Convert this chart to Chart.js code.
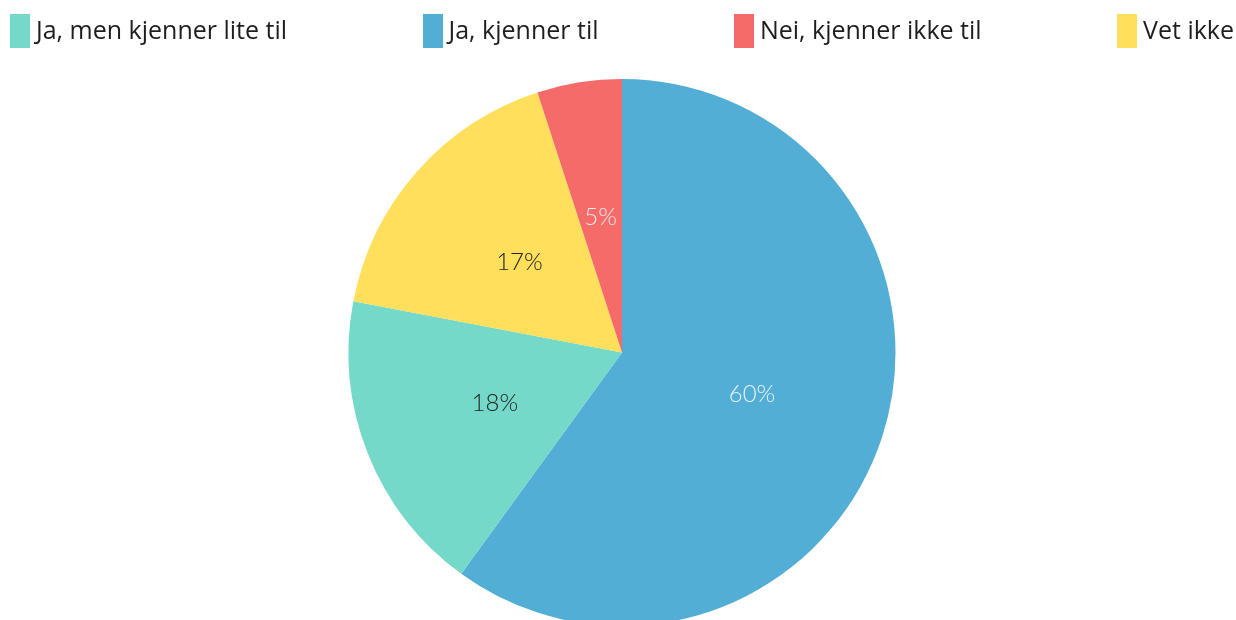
<!DOCTYPE html>
<html>
<head>
<meta charset="utf-8">
<script src="https://cdn.jsdelivr.net/npm/chart.js@4"></script>
<style>
  html, body { margin: 0; padding: 0; background: #fff; overflow: hidden; }
  #wrap { position: relative; width: 1236px; height: 626px; }
  #legend {
    position: absolute; left: 0; top: 0; width: 1236px; box-sizing: border-box;
    padding: 0 2px 0 10px; display: flex; justify-content: space-between; align-items: flex-start;
    font-family: "Open Sans", "Noto Sans", sans-serif; font-size: 25px; color: #1e1e1e; z-index: 2;
  }
  .item { display: flex; align-items: flex-start; white-space: nowrap; }
  .box { width: 20px; height: 34px; margin-top: 14px; margin-right: 6px; box-sizing: border-box; }
  .txt { line-height: 25px; margin-top: 17px; }
</style>
</head>
<body>
<div id="wrap">
  <div id="legend"></div>
  <canvas id="c"></canvas>
</div>
<script>
// Slices in drawing order (clockwise from top)
const categories = ['Ja, kjenner til', 'Ja, men kjenner lite til', 'Vet ikke', 'Nei, kjenner ikke til'];
const values = [60, 18, 17, 5];
const sliceColors = ['#53AED6', '#74D9C8', '#FFDF5B', '#F56B69'];
const labelColors = ['rgba(255,255,255,0.85)', '#222222', '#222222', 'rgba(255,255,255,0.85)'];
// Legend order as shown in the reference
const legendOrder = ['Ja, men kjenner lite til', 'Ja, kjenner til', 'Nei, kjenner ikke til', 'Vet ikke'];

// HTML legend
const legendEl = document.getElementById('legend');
legendOrder.forEach(name => {
  const i = categories.indexOf(name);
  const item = document.createElement('div');
  item.className = 'item';
  const box = document.createElement('div');
  box.className = 'box';
  box.style.background = sliceColors[i];
  const txt = document.createElement('div');
  txt.className = 'txt';
  txt.textContent = name;
  item.appendChild(box);
  item.appendChild(txt);
  legendEl.appendChild(item);
});

const sliceLabels = {
  id: 'sliceLabels',
  afterDatasetsDraw(chart) {
    const ctx = chart.ctx;
    const meta = chart.getDatasetMeta(0);
    const total = values.reduce((a, b) => a + b, 0);
    ctx.save();
    ctx.font = '300 24px Lato, "Open Sans", sans-serif';
    ctx.textAlign = 'center';
    ctx.textBaseline = 'middle';
    meta.data.forEach((arc, i) => {
      const p = arc.tooltipPosition();
      ctx.fillStyle = labelColors[i];
      ctx.fillText(Math.round(values[i] / total * 100) + '%', p.x, p.y);
    });
    ctx.restore();
  }
};

new Chart(document.getElementById('c'), {
  type: 'pie',
  data: {
    labels: categories,
    datasets: [{
      data: values,
      backgroundColor: sliceColors,
      borderWidth: 0
    }]
  },
  options: {
    responsive: true,
    maintainAspectRatio: false,
    animation: false,
    layout: { padding: { top: 79, left: 8, right: 0, bottom: 0 } },
    plugins: {
      legend: { display: false },
      tooltip: { enabled: false }
    }
  },
  plugins: [sliceLabels]
});
</script>
</body>
</html>
